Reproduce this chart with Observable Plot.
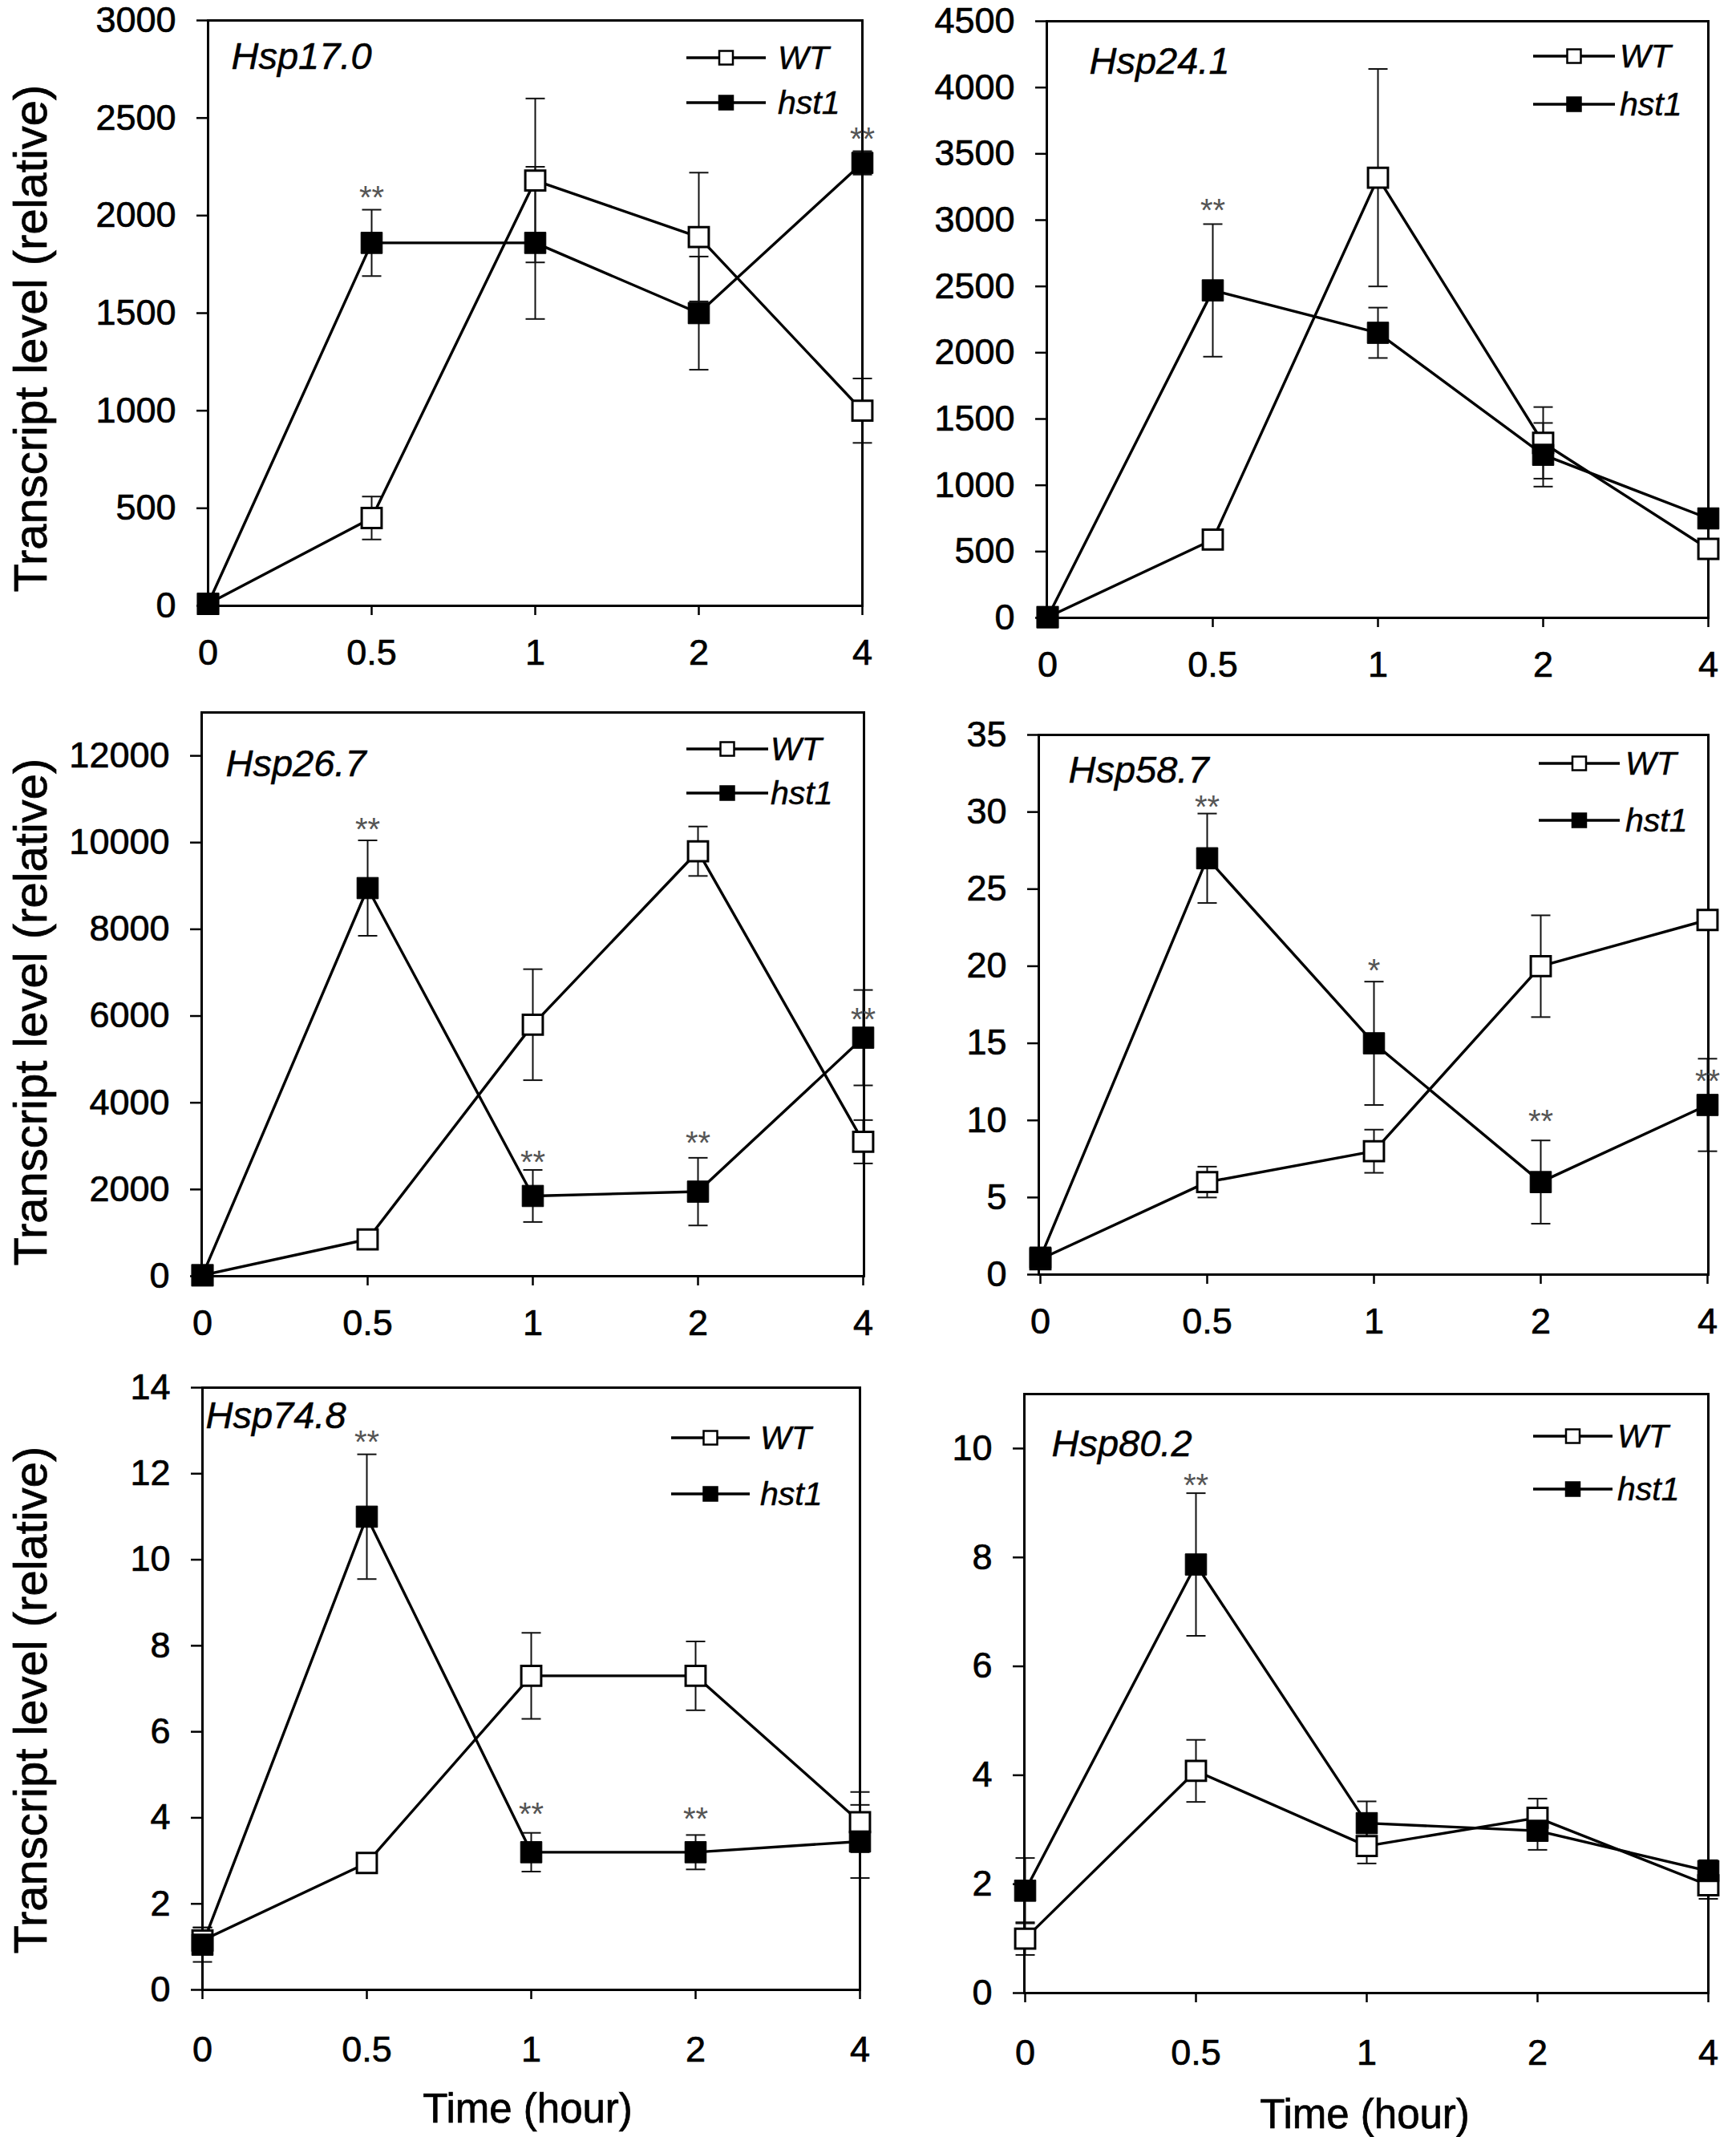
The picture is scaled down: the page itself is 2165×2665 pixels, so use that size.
<!DOCTYPE html>
<html><head><meta charset="utf-8">
<script src="https://cdn.jsdelivr.net/npm/d3@7"></script>
<script src="https://cdn.jsdelivr.net/npm/@observablehq/plot@0.6"></script>
<style>
body{margin:0;background:#fff;}
#page{position:relative;width:2165px;height:2665px;font-family:"Liberation Sans",Arial,sans-serif;overflow:hidden;background:#fff;color:#000}
.panel{position:absolute}
.panel svg g[aria-label="y-axis tick label"] text, .panel svg g[aria-label="x-axis tick label"] text{stroke:#000;stroke-width:0.7px}
.ytitle{position:absolute;font-size:58px;white-space:nowrap;transform:translate(-50%,-50%) rotate(-90deg);-webkit-text-stroke:0.7px #000}
.xtitle{position:absolute;font-size:51px;white-space:nowrap;transform:translate(-50%,-50%);-webkit-text-stroke:0.7px #000}
.legend{position:absolute}
</style></head><body><div id="page"></div>
<script>
// ---- data ----
const times = ["0", "0.5", "1", "2", "4"];
const genes = ["Hsp17.0", "Hsp24.1", "Hsp26.7", "Hsp58.7", "Hsp74.8", "Hsp80.2"];
const seriesNames = ["WT", "hst1"];
const yMax = [3000, 4500, 13000, 35, 14, 11];
const yTicks = [
  [0, 500, 1000, 1500, 2000, 2500, 3000],
  [0, 500, 1000, 1500, 2000, 2500, 3000, 3500, 4000, 4500],
  [0, 2000, 4000, 6000, 8000, 10000, 12000],
  [0, 5, 10, 15, 20, 25, 30, 35],
  [0, 2, 4, 6, 8, 10, 12, 14],
  [0, 2, 4, 6, 8, 10]
];
const wtMean = [
  [10, 450, 2180, 1890, 1000],
  [5, 590, 3320, 1320, 520],
  [20, 850, 5800, 9800, 3100],
  [1.0, 6, 8, 20, 23],
  [1.15, 2.95, 7.3, 7.3, 3.9],
  [1.0, 4.08, 2.7, 3.22, 1.98]
];
const wtErr = [
  [8, 110, 420, 330, 165],
  [5, 60, 820, 270, 50],
  [20, 100, 1280, 570, 500],
  [0.2, 1.0, 1.4, 3.3, 0.4],
  [0.3, 0.12, 1.0, 0.8, 0.7],
  [0.3, 0.57, 0.32, 0.35, 0.25]
];
const hstMean = [
  [10, 1860, 1860, 1500, 2270],
  [5, 2470, 2150, 1230, 750],
  [20, 8950, 1850, 1950, 5500],
  [1.1, 27, 15, 6, 11],
  [1.05, 11.0, 3.2, 3.2, 3.45],
  [1.88, 7.87, 3.12, 2.98, 2.24]
];
const hstErr = [
  [8, 170, 390, 290, 60],
  [5, 500, 190, 240, 40],
  [20, 1100, 600, 780, 1100],
  [0.2, 2.9, 4.0, 2.7, 3.0],
  [0.4, 1.45, 0.45, 0.4, 0.85],
  [0.6, 1.31, 0.4, 0.35, 0.2]
];
// significance marks: time, symbol, y value
const starTime = [["0.5", "4"], ["0.5"], ["0.5", "1", "2", "4"], ["0.5", "1", "2", "4"], ["0.5", "1", "2"], ["0.5"]];
const starText = [["**", "**"], ["**"], ["**", "**", "**", "**"], ["**", "*", "**", "**"], ["**", "**", "**"], ["**"]];
const starY = [[2130, 2430], [3130], [10480, 2800, 3240, 6090], [30.8, 20.2, 10.4, 13.0], [12.9, 4.26, 4.14], [9.46]];

// ---- layout (page pixels) ----
const frames = [
  {L: 259, R: 1075, T: 25, B: 755},
  {L: 1305, R: 2130, T: 26, B: 770},
  {L: 251, R: 1077, T: 888, B: 1591},
  {L: 1295, R: 2130, T: 916, B: 1589},
  {L: 252, R: 1072, T: 1730, B: 2481},
  {L: 1277, R: 2130, T: 1738, B: 2485}
];
const xTickPad = [30, 30, 30, 30, 46, 46];
const labelPos = [[29, 45], [53, 50], [30, 64], [37, 44], [4, 35], [34, 62]];
// legend: line start (from R), line end (from R), text start (from R), WT dy, hst1 dy
const legendPos = [
  [-219, -120, -105, 47, 103],
  [-218, -116, -110, 44, 104],
  [-221, -119, -116, 46, 101],
  [-211, -110, -103, 36, 107],
  [-235, -137, -124, 63, 133],
  [-218, -119, -113, 53, 119]
];

const page = document.getElementById("page");
const mL = 200, mR = 50, mT = 50, mB = 110;
const capSymbol = {draw(ctx, size) { const w = Math.sqrt(size / Math.PI); ctx.moveTo(-w, 0); ctx.lineTo(w, 0); }};

genes.forEach((gene, g) => {
  const f = frames[g];
  const rows = [];
  times.forEach((t, i) => {
    rows.push({t, series: "WT", v: wtMean[g][i], e: wtErr[g][i]});
  });
  times.forEach((t, i) => {
    rows.push({t, series: "hst1", v: hstMean[g][i], e: hstErr[g][i]});
  });
  const wtRows = rows.filter(d => d.series === "WT");
  const hstRows = rows.filter(d => d.series === "hst1");
  const stars = starTime[g].map((t, i) => ({t, s: starText[g][i], y: starY[g][i]}));
  const lo = d => Math.max(0, d.v - d.e);
  const hi = d => d.v + d.e;

  const chart = Plot.plot({
    width: f.R - f.L + mL + mR,
    height: f.B - f.T + mT + mB,
    marginLeft: mL, marginRight: mR, marginTop: mT, marginBottom: mB,
    style: {background: "transparent", overflow: "visible", fontFamily: "Liberation Sans, Arial, sans-serif", color: "black"},
    x: {type: "point", domain: times, padding: 0},
    y: {domain: [0, yMax[g]]},
    marks: [
      Plot.axisY({ticks: yTicks[g], tickFormat: d => String(d), tickSize: 14, tickPadding: 26, fontSize: 45, strokeWidth: 2.5, label: null}),
      Plot.axisX({tickSize: 12, tickPadding: xTickPad[g], fontSize: 45, strokeWidth: 2.5, label: null}),
      Plot.ruleX(rows, {x: "t", y1: lo, y2: hi, stroke: "#111", strokeWidth: 2}),
      Plot.dot(rows, {x: "t", y: hi, symbol: capSymbol, r: 12, fill: "none", stroke: "#111", strokeWidth: 2}),
      Plot.dot(rows.filter(d => d.v - d.e > 0), {x: "t", y: lo, symbol: capSymbol, r: 12, fill: "none", stroke: "#111", strokeWidth: 2}),
      Plot.line(rows, {x: "t", y: "v", z: "series", stroke: "black", strokeWidth: 3.4}),
      Plot.frame({stroke: "black", strokeWidth: 3}),
      Plot.dot(wtRows, {x: "t", y: "v", symbol: "square", r: 14, fill: "white", stroke: "black", strokeWidth: 3}),
      Plot.dot(hstRows, {x: "t", y: "v", symbol: "square", r: 15, fill: "black", stroke: "black", strokeWidth: 1}),
      Plot.text(stars, {x: "t", y: "y", text: "s", fontSize: 40, fill: "#555", dy: 10}),
      Plot.text([gene], {text: d => d, frameAnchor: "top-left", dx: labelPos[g][0], dy: labelPos[g][1], textAnchor: "start", lineAnchor: "middle", fontSize: 47, fontStyle: "italic", fill: "black", stroke: "black", strokeWidth: 0.5})
    ]
  });
  const div = document.createElement("div");
  div.className = "panel";
  div.style.left = (f.L - mL) + "px";
  div.style.top = (f.T - mT) + "px";
  div.style.width = (f.R - f.L + mL + mR) + "px";
  div.appendChild(chart);
  page.appendChild(div);

  // legend
  const lp = legendPos[g];
  const lw = 260, lh = 180;
  const ox = f.R - 240, oy = f.T;
  const svg = d3.create("svg").attr("width", lw).attr("height", lh)
    .style("position", "absolute").style("left", ox + "px").style("top", oy + "px").style("overflow", "visible");
  seriesNames.forEach((name, k) => {
    const y = k === 0 ? lp[3] : lp[4];
    const x1 = f.R + lp[0] - ox, x2 = f.R + lp[1] - ox, xt = f.R + lp[2] - ox;
    const xm = (x1 + x2) / 2;
    svg.append("line").attr("x1", x1).attr("x2", x2).attr("y1", y).attr("y2", y).attr("stroke", "black").attr("stroke-width", 3.5);
    svg.append("rect").attr("x", xm - 8.5).attr("y", y - 8.5).attr("width", 17).attr("height", 17)
      .attr("fill", k === 0 ? "white" : "black").attr("stroke", "black").attr("stroke-width", 2.5);
    svg.append("text").attr("x", xt).attr("y", y).attr("dy", "0.35em").attr("font-size", 41)
      .attr("font-style", "italic").attr("font-family", "Liberation Sans, Arial, sans-serif")
      .attr("stroke", "black").attr("stroke-width", 0.5).text(name);
  });
  page.appendChild(svg.node());
});

// titles
[[422], [1262], [2120]].forEach(([cy]) => {
  const d = document.createElement("div");
  d.className = "ytitle";
  d.style.left = "37px"; d.style.top = cy + "px";
  d.textContent = "Transcript level (relative)";
  page.appendChild(d);
});
[[658, 2629], [1702, 2636]].forEach(([cx, cy]) => {
  const d = document.createElement("div");
  d.className = "xtitle";
  d.style.left = cx + "px"; d.style.top = cy + "px";
  d.textContent = "Time (hour)";
  page.appendChild(d);
});
</script></body></html>
